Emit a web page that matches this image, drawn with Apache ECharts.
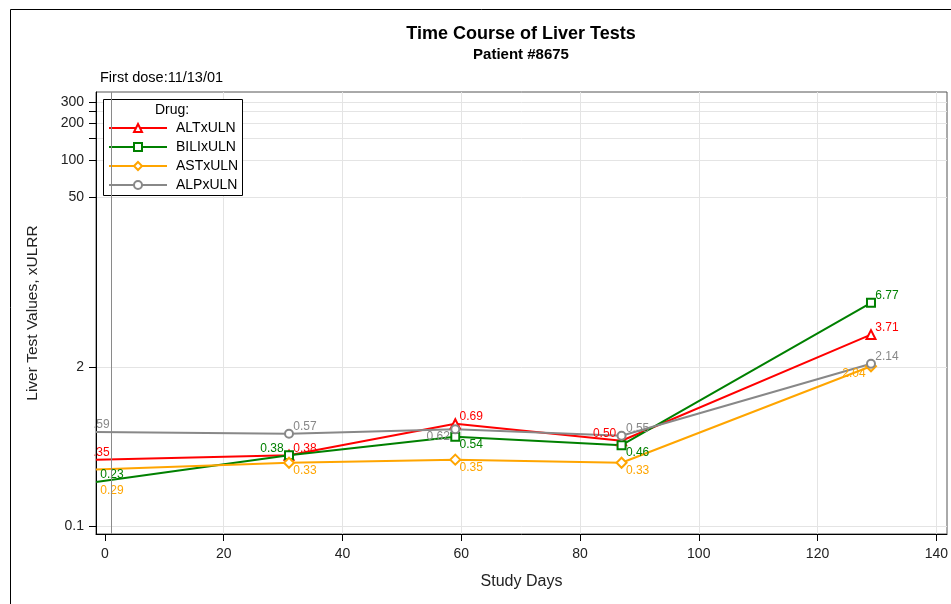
<!DOCTYPE html>
<html><head><meta charset="utf-8">
<script src="https://cdn.jsdelivr.net/npm/echarts@6/dist/echarts.min.js"></script>
<style>html,body{margin:0;padding:0;background:#fff}#c{width:951px;height:604px}</style>
</head><body><div id="c"></div>
<script>
// ---- data ----
const days = [-1.5, 31, 59, 87, 129];
const altValues = [0.35, 0.38, 0.69, 0.50, 3.71];
const biliValues = [0.23, 0.38, 0.54, 0.46, 6.77];
const astValues = [0.29, 0.33, 0.35, 0.33, 2.04];
const alpValues = [0.59, 0.57, 0.62, 0.55, 2.14];
const seriesNames = ['ALTxULN', 'BILIxULN', 'ASTxULN', 'ALPxULN'];
const xTicks = [0, 20, 40, 60, 80, 100, 120, 140];
const yTicks = [0.1, 2, 50, 100, 150, 200, 250, 300];
const yTickLabels = [0.1, 2, 50, 100, 200, 300];
const firstDoseDay = 1;
const firstDoseText = 'First dose:11/13/01';
const titleText = 'Time Course of Liver Tests';
const subtitleText = 'Patient #8675';
const legendTitle = 'Drug:';

// ---- styles ----
const FONT = '"Liberation Sans", Arial, sans-serif';
const OFF = {TR:[16,-7], BR:[16,8], TL:[-17,-7], BL:[-17,7], CL:[2,-7], BR2:[16,21]};
const labelPlacement = {
  ALTxULN:  ['CL','TR','TR','TL','TR'],
  BILIxULN: ['TR','TL','BR','BR','TR'],
  ASTxULN:  ['BR2','BR','BR','BR','BL'],
  ALPxULN:  ['CL','TR','BL','TR','TR']
};

function mk(name, vals, color, symbol, size) {
  return {
    name: name, type: 'line', symbol: symbol, symbolSize: size,
    lineStyle: {color: color, width: 2},
    itemStyle: {color: color, borderWidth: 1},
    data: days.map((d, i) => ({
      value: [d, vals[i]],
      symbolSize: i === 0 ? 0 : size,
      label: {offset: OFF[labelPlacement[name][i]]}
    })),
    label: {show: true, position: 'inside', color: color, fontSize: 12, fontFamily: FONT,
      formatter: p => p.value[1].toFixed(2)},
    emphasis: {disabled: true},
    animation: false
  };
}

const series = [
  mk('ALTxULN', altValues, '#ff0000', 'emptyTriangle', 9),
  mk('BILIxULN', biliValues, '#008000', 'emptyRect', 8),
  mk('ASTxULN', astValues, '#ffa500', 'emptyDiamond', 10),
  mk('ALPxULN', alpValues, '#888888', 'emptyCircle', 8)
];
series[0].markLine = {
  silent: true, symbol: ['none', 'none'], animation: false,
  label: {show: false},
  lineStyle: {color: '#8a8a8a', width: 1, type: 'solid'},
  data: [{xAxis: firstDoseDay}]
};

const chart = echarts.init(document.getElementById('c'), null, {renderer: 'canvas'});
chart.setOption({
  animation: false,
  backgroundColor: '#fff',
  title: {
    text: titleText, subtext: subtitleText, left: 521, textAlign: 'center', top: 25, padding: 0, itemGap: 4,
    textStyle: {fontSize: 18, fontWeight: 'bold', color: '#000', fontFamily: FONT},
    subtextStyle: {fontSize: 15, fontWeight: 'bold', color: '#000', fontFamily: FONT}
  },
  grid: {left: 96, right: 4, top: 92, bottom: 70, show: true, borderColor: '#555', borderWidth: 1, backgroundColor: '#fff'},
  legend: {
    left: 108, top: 121, orient: 'vertical', itemWidth: 58, itemHeight: 10, itemGap: 5, padding: 0,
    data: seriesNames, selectedMode: false,
    lineStyle: {width: 2},
    textStyle: {fontSize: 14, color: '#000', fontFamily: FONT, padding: [0, 0, 0, 4]}
  },
  xAxis: {
    type: 'value', min: -1.5, max: 141.8,
    name: 'Study Days', nameLocation: 'middle', nameGap: 40,
    nameTextStyle: {fontSize: 16, color: '#222', fontFamily: FONT},
    axisLine: {show: true, onZero: false, lineStyle: {color: '#000'}},
    axisTick: {show: true, length: 7, customValues: xTicks, lineStyle: {color: '#000'}},
    axisLabel: {customValues: xTicks, margin: 13, fontSize: 14, color: '#222', fontFamily: FONT},
    splitLine: {show: true, lineStyle: {color: xTicks.map(v => v === 0 ? 'rgba(0,0,0,0)' : '#e4e4e4')}}
  },
  yAxis: {
    type: 'log', logBase: 10, min: 0.086, max: 362,
    name: 'Liver Test Values, xULRR', nameLocation: 'middle', nameGap: 55, nameRotate: 90,
    nameTextStyle: {fontSize: 15.5, color: '#222', fontFamily: FONT},
    axisLine: {show: true, onZero: false, lineStyle: {color: '#000'}},
    axisTick: {show: true, length: 7, customValues: yTicks, lineStyle: {color: '#000'}},
    axisLabel: {customValues: yTickLabels, margin: 12, fontSize: 14, color: '#222', fontFamily: FONT,
      formatter: v => String(+(+v).toPrecision(6))},
    splitLine: {show: true, lineStyle: {color: '#e4e4e4'}}
  },
  graphic: [
    {type: 'rect', silent: true, z: 0, shape: {x: 10.5, y: 9.5, width: 1000, height: 700},
      style: {fill: 'none', stroke: '#000', lineWidth: 1}},
    {type: 'rect', silent: true, z: 3, shape: {x: 103.5, y: 99.5, width: 139, height: 96},
      style: {fill: '#fff', stroke: '#000', lineWidth: 1}},
    {type: 'text', silent: true, z: 5, x: 172, y: 110,
      style: {text: legendTitle, font: '14px ' + FONT, fill: '#000', textAlign: 'center', textVerticalAlign: 'middle'}},
    {type: 'text', silent: true, z: 5, x: 100, y: 78,
      style: {text: firstDoseText, font: '14.5px ' + FONT, fill: '#000', textAlign: 'left', textVerticalAlign: 'middle'}},
    {type: 'rect', silent: true, z: 100, shape: {x: 70, y: 410, width: 24.5, height: 55},
      style: {fill: '#fff'}}
  ],
  series: series
});
</script>
</body></html>
